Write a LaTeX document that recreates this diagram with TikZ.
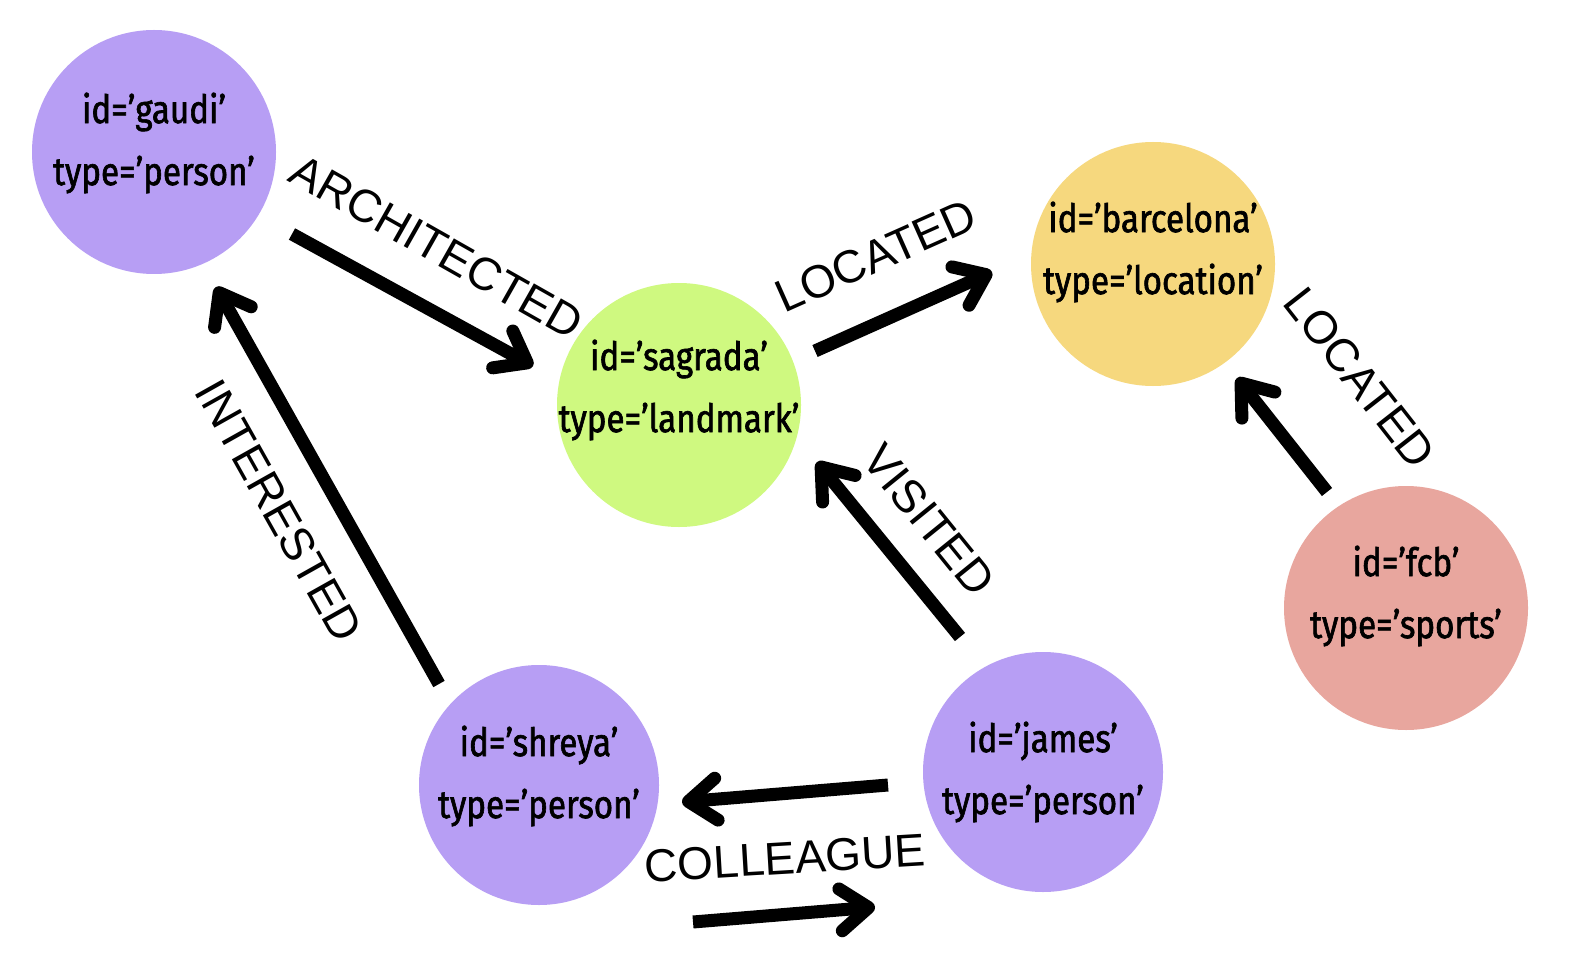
\documentclass[tikz,border=0pt]{standalone}
\usepackage{fontspec}
\setmainfont{Liberation Sans}
\newfontfamily\nodefont[FakeStretch=0.85,FakeBold=1.6]{Fira Sans}
\usetikzlibrary{arrows.meta}
\definecolor{cpurple}{RGB}{183,158,244}
\definecolor{cgreen}{RGB}{207,249,128}
\definecolor{cyellow}{RGB}{246,216,126}
\definecolor{cpink}{RGB}{232,166,158}
\tikzset{
  vtx/.style={circle,draw=none,inner sep=0pt,minimum size=244pt},
  vtext/.style={align=center,font=\nodefont\fontsize{39}{62}\selectfont,inner sep=0pt},
  elabel/.style={font=\fontsize{46}{50}\selectfont,inner sep=0pt},
  rel/.style={line width=13pt,-{Straight Barb[round,length=28pt,width=42pt]}}
}
\begin{document}
\begin{tikzpicture}[x=1pt,y=-1pt]
\path[use as bounding box,fill=white] (0,0) rectangle (1592,968);
% vertices
\node[vtx,fill=cpurple] (gaudi) at (154,152) {};
\node[vtx,fill=cgreen] (sagrada) at (679,405) {};
\node[vtx,fill=cyellow] (barcelona) at (1153,264) {};
\node[vtx,fill=cpink] (fcb) at (1406,608) {};
\node[vtx,fill=cpurple,minimum size=240pt] (shreya) at (539,785) {};
\node[vtx,fill=cpurple,minimum size=240pt] (james) at (1043,772) {};
% vertex texts
\node[vtext] (gaudiT) at (154,143) {id=’gaudi’\\type=’person’};
\node[vtext] (sagradaT) at (679,390) {id=’sagrada’\\type=’landmark’};
\node[vtext] (barcelonaT) at (1153,252) {id=’barcelona’\\type=’location’};
\node[vtext] (fcbT) at (1406,596) {id=’fcb’\\type=’sports’};
\node[vtext] (shreyaT) at (539,776) {id=’shreya’\\type=’person’};
\node[vtext] (jamesT) at (1043,772) {id=’james’\\type=’person’};
% connector end points
\coordinate (a1) at (292,234);
\coordinate (a2) at (533,366);
\coordinate (l1) at (815,351);
\coordinate (l2) at (992,272);
\coordinate (m1) at (1327,492);
\coordinate (m2) at (1237,378);
\coordinate (v1) at (960,637);
\coordinate (v2) at (817,462);
\coordinate (i1) at (439,684);
\coordinate (i2) at (216,287);
\coordinate (c1) at (888,785);
\coordinate (c2) at (682,802);
\coordinate (d1) at (693,922);
\coordinate (d2) at (875,907);
% connectors
\draw[rel] (a1) -- (a2);
\draw[rel] (l1) -- (l2);
\draw[rel] (m1) -- (m2);
\draw[rel] (v1) -- (v2);
\draw[rel] (i1) -- (i2);
\draw[rel] (c1) -- (c2);
\draw[rel] (d1) -- (d2);
% labels
\node[elabel,rotate=-29.5] (archL) at (437,247) {ARCHITECTED};
\node[elabel,rotate=24] (loc1L) at (876,256) {LOCATED};
\node[elabel,rotate=-52] (loc2L) at (1360,378) {LOCATED};
\node[elabel,rotate=-51] (visL) at (929,520) {VISITED};
\node[elabel,rotate=-60.7] (intL) at (279,511) {INTERESTED};
\node[elabel,rotate=3.4] (colL) at (785,858) {COLLEAGUE};
\end{tikzpicture}
\end{document}
